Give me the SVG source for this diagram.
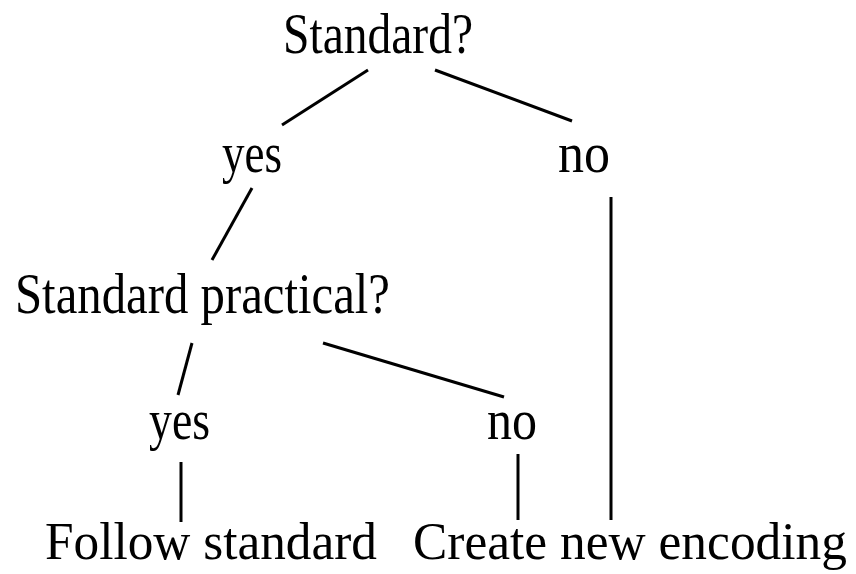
<svg xmlns="http://www.w3.org/2000/svg" width="856" height="574" viewBox="0 0 856 574">
<style>
.t{font-family:"Liberation Serif","Times New Roman",serif;font-size:58px;fill:#000}
.b{font-size:52px}
.c line{stroke:#000;stroke-width:3;stroke-linecap:butt}
</style>
<rect width="856" height="574" fill="#fff"/>
<g class="c" id="connectors">
<line x1="368" y1="70" x2="282" y2="125"/>
<line x1="435" y1="70" x2="572" y2="121"/>
<line x1="252" y1="188" x2="212" y2="260"/>
<line x1="192" y1="343" x2="178" y2="395"/>
<line x1="323" y1="343" x2="504" y2="397"/>
<line x1="181" y1="462" x2="181" y2="522"/>
<line x1="518" y1="454" x2="518" y2="520"/>
<line x1="611" y1="197" x2="611" y2="520"/>
</g>
<g id="n1"><text class="t" x="283" y="53" textLength="190" lengthAdjust="spacingAndGlyphs">Standard?</text></g>
<g id="n2"><text class="t" x="222" y="172" textLength="60" lengthAdjust="spacingAndGlyphs">yes</text></g>
<g id="n3"><text class="t" x="558" y="172" textLength="52" lengthAdjust="spacingAndGlyphs">no</text></g>
<g id="n4"><text class="t" x="15" y="313" textLength="375" lengthAdjust="spacingAndGlyphs">Standard practical?</text></g>
<g id="n5"><text class="t" x="149" y="439" textLength="61" lengthAdjust="spacingAndGlyphs">yes</text></g>
<g id="n6"><text class="t" x="487" y="439" textLength="50" lengthAdjust="spacingAndGlyphs">no</text></g>
<g id="n7"><text class="t b" x="45" y="559" textLength="332" lengthAdjust="spacingAndGlyphs">Follow standard</text></g>
<g id="n8"><text class="t b" x="413" y="559" textLength="434" lengthAdjust="spacingAndGlyphs">Create new encoding</text></g>
</svg>
